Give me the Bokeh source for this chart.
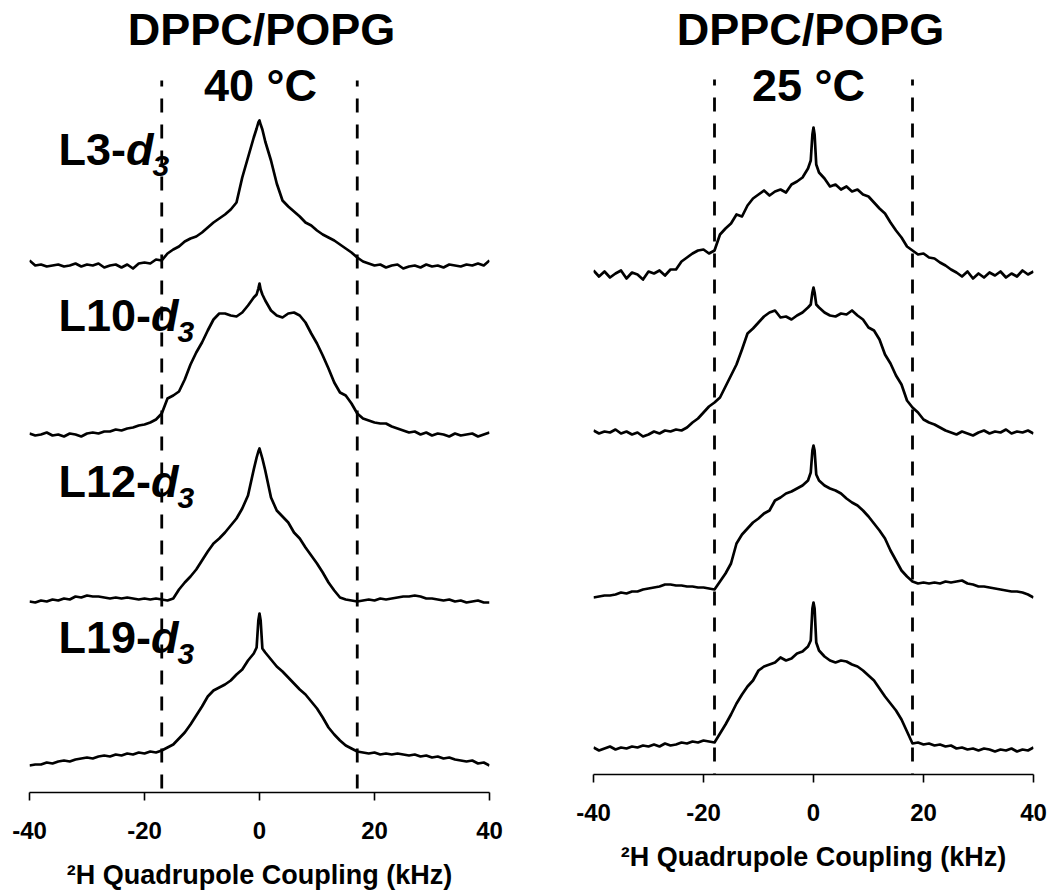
from bokeh.plotting import figure
from bokeh.layouts import row
from bokeh.models import Range1d, FixedTicker
from bokeh.core.properties import value
from bokeh.embed import file_html
from bokeh.resources import INLINE

FONT = "Liberation Sans"

# ---------------- data ----------------
# 2H quadrupole coupling grid (kHz)
coupling_khz = [float(k) for k in range(-40, 0)] + [-0.5, -0.2, 0.0, 0.2, 0.5] + [float(k) for k in range(1, 41)]

tick_values = [-40, -20, 0, 20, 40]
tick_labels = ["-40", "-20", "0", "20", "40"]

panel_titles = ["DPPC/POPG", "DPPC/POPG"]
temperatures = ["40 \u00b0C", "25 \u00b0C"]
sample_names = ["L3-", "L10-", "L12-", "L19-"]
label_italic = "d"
label_sub = "3"
axis_title = "\u00b2H Quadrupole Coupling (kHz)"

# quadrupole splitting markers (kHz)
splitting_40C = [-17.0, 17.0]
splitting_25C = [-18.0, 18.0]

# intensities (a.u.), 40 C
L3_40C = [5, 0, 1, -1, 0, 1, -1, 0, 2, -1, 1, 0, 2, -2, 0, 1, -2, 1, -3, 2,
          3, 2, 6, 5, 12, 16, 19, 24, 27, 29, 33, 38, 43, 47, 51, 56, 63, 88, 108, 128,
          137, 143, 145, 141, 136,
          124, 105, 82, 65, 59, 54, 49, 43, 40, 35, 31, 28, 25, 21, 17, 13, 8, 4, 2, 0,
          1, -2, 0, 1, -3, -1, 0, -2, 1, -1, 0, -2, 1, 0, -1, 1, 0, 2, 0, 5]
L10_40C = [1, -1, 0, 2, -1, 0, -2, 1, 0, -2, 1, 2, 1, 3, 3, 5, 4, 6, 7, 9,
           10, 12, 15, 21, 36, 39, 43, 55, 70, 82, 92, 104, 115, 121, 121, 119, 118, 122, 129, 137,
           140, 146, 151, 145, 140,
           134, 124, 119, 117, 121, 122, 119, 112, 101, 91, 79, 66, 52, 42, 39, 31, 21, 16, 14, 12,
           11, 11, 8, 6, 4, 2, 3, 0, 2, -1, 1, 0, -2, 1, -1, 0, 1, -2, 0, 2]
L12_40C = [0, -1, 1, 0, 2, 1, 3, 2, 5, 4, 6, 5, 5, 4, 3, 4, 3, 4, 3, 2,
           3, 2, 3, 2, 1, 3, 12, 19, 25, 32, 41, 50, 58, 63, 69, 76, 83, 93, 106, 132,
           144, 150, 153, 149, 143,
           131, 104, 91, 85, 79, 69, 63, 54, 46, 38, 29, 19, 11, 4, 2, 1, 0, 1, 2, 1,
           3, 2, 3, 4, 5, 5, 6, 5, 3, 3, 2, 1, 2, 0, 1, -1, 0, 1, -1, -1]
L19_40C = [0, 1, 1, 3, 2, 4, 5, 4, 6, 7, 8, 7, 9, 10, 9, 11, 10, 12, 11, 13,
           12, 14, 13, 15, 18, 21, 27, 33, 41, 50, 59, 69, 75, 78, 81, 85, 91, 96, 105, 112,
           118, 145, 152, 145, 117,
           113, 106, 99, 94, 88, 82, 76, 71, 64, 57, 48, 38, 31, 25, 20, 17, 14, 13, 12, 13,
           11, 12, 11, 12, 11, 10, 11, 9, 10, 8, 9, 7, 8, 6, 5, 4, 5, 2, 3, 0]

# intensities (a.u.), 25 C
L3_25C = [4, -2, 3, -3, 1, 4, -4, 2, 0, -5, 3, 1, 4, -1, 5, 5, 13, 17, 21, 24,
          25, 21, 24, 40, 46, 51, 60, 58, 69, 76, 80, 84, 79, 83, 85, 82, 90, 93, 97, 106,
          114, 140, 147, 140, 110,
          102, 96, 88, 90, 85, 88, 83, 85, 80, 78, 72, 66, 61, 52, 44, 37, 28, 24, 20, 21,
          17, 16, 12, 9, 5, 2, -2, 3, -4, 1, -3, 2, -1, 3, -3, 1, -2, 4, 0, 3]
L10_25C = [2, -1, 1, 0, 3, -1, 1, -2, 0, -4, -2, 1, -1, 2, 1, 3, 2, 5, 10, 14,
           20, 26, 30, 35, 46, 57, 68, 83, 99, 104, 110, 116, 120, 122, 115, 116, 113, 117, 120, 125,
           128, 140, 145, 140, 128,
           125, 120, 117, 116, 119, 118, 122, 117, 113, 105, 102, 93, 78, 69, 57, 48, 32, 25, 20, 13,
           10, 8, 5, 2, 0, -2, 1, -1, -3, 0, 2, -1, 1, 0, 3, -1, 1, 0, 2, -1]
L12_25C = [1, 2, 3, 3, 4, 6, 5, 7, 7, 9, 10, 11, 12, 14, 14, 13, 13, 12, 12, 11,
           11, 10, 9, 17, 25, 35, 55, 64, 70, 76, 80, 85, 88, 98, 101, 105, 107, 110, 113, 118,
           126, 148, 153, 148, 124,
           118, 113, 110, 108, 105, 100, 96, 93, 88, 82, 75, 68, 60, 48, 38, 28, 22, 17, 15, 16,
           15, 16, 15, 17, 16, 17, 18, 15, 14, 12, 12, 11, 10, 9, 8, 7, 7, 6, 4, 1]
L19_25C = [1, -2, 0, 2, -1, 1, 0, 2, 1, 3, 2, 4, 2, 5, 3, 4, 6, 5, 7, 6,
           8, 7, 6, 15, 24, 34, 45, 54, 62, 68, 78, 82, 84, 86, 91, 88, 90, 95, 97, 102,
           108, 140, 146, 140, 106,
           98, 92, 88, 86, 88, 87, 84, 82, 78, 73, 68, 60, 52, 45, 38, 29, 17, 5, 6, 4,
           5, 3, 4, 2, 3, 0, 1, -1, 0, -2, 0, -1, -3, -1, -2, 0, -3, -1, -2, 1]

spectra_40C = [L3_40C, L10_40C, L12_40C, L19_40C]
spectra_25C = [L3_25C, L10_25C, L12_25C, L19_25C]

# vertical stacking offsets (a.u.), top to bottom
offsets_40C = [527, 358, 191, 27]
offsets_25C = [500, 342, 176, 26]

# ---------------- layout helpers ----------------
AW = {"L": 0.611, "1": 0.556, "0": 0.556, "2": 0.556, "3": 0.556, "9": 0.556, "-": 0.333}
BASE_SHIFT = 0.4  # empirical: alphabetic baseline renders ~0.4em low


def text_w(s, size):
    return sum(AW.get(c, 0.556) for c in s) * size


def style_axis(p):
    ax = p.xaxis[0]
    ax.ticker = FixedTicker(ticks=tick_values)
    ax.major_label_overrides = {v: l for v, l in zip(tick_values, tick_labels)}
    ax.axis_line_color = "black"
    ax.axis_line_width = 1.6
    ax.major_tick_line_color = "black"
    ax.major_tick_line_width = 1.6
    ax.major_tick_out = 8
    ax.major_tick_in = 0
    ax.minor_tick_out = 0
    ax.minor_tick_in = 0
    ax.major_label_text_font = FONT
    ax.major_label_text_font_size = "24px"
    ax.major_label_text_font_style = "bold"
    ax.major_label_text_color = "black"
    ax.major_label_standoff = 21
    ax.axis_label = axis_title
    ax.axis_label_text_font = FONT
    ax.axis_label_text_font_size = "27px"
    ax.axis_label_text_font_style = "bold"
    ax.axis_label_text_color = "black"
    ax.axis_label_standoff = 18


def add_text(p, px2x, fh, x_px, base_px, txt, size, style, align):
    # x_px: image x relative to frame left; base_px: image y of baseline
    y = fh - base_px + BASE_SHIFT * size
    p.text(x=[px2x(x_px)], y=[y], text=[txt], text_font=value(FONT),
           text_font_size=f"{size}px", text_font_style=style, text_align=align,
           text_baseline="alphabetic", text_color="black")


def make_panel(frame_left, frame_w, frame_h, br, spectra, offsets, splits, dash_y,
               title, temp, title_pos, temp_pos):
    p = figure(frame_width=frame_w, frame_height=frame_h,
               min_border_left=frame_left, min_border_right=br, min_border_top=0,
               min_border_bottom=0,
               x_range=Range1d(-40, 40), y_range=Range1d(0, frame_h),
               y_axis_location=None, toolbar_location=None, output_backend="svg")
    p.xgrid.visible = False
    p.ygrid.visible = False
    p.outline_line_color = None
    p.background_fill_color = "white"
    p.border_fill_color = "white"
    style_axis(p)

    def px2x(px):
        return -40 + 80.0 * px / frame_w

    for s in splits:
        p.line([s, s], dash_y, line_color="black", line_width=2.8, line_dash="14 12")

    for spec, off in zip(spectra, offsets):
        p.line(coupling_khz, [off + v for v in spec], line_color="black", line_width=2.7,
               line_join="round")

    add_text(p, px2x, frame_h, title_pos[0] - frame_left, title_pos[1], title, 45, "bold", "center")
    add_text(p, px2x, frame_h, temp_pos[0] - frame_left, temp_pos[1], temp, 45, "bold", "center")
    return p, px2x


# ---------- left panel (40 C) ----------
# frame: image x 29..489, image y 0..792 ; data y = 792 - image y
LF = 29
left, lpx = make_panel(LF, 460, 792, 52, spectra_40C, offsets_40C, splitting_40C,
                       [4, 712], panel_titles[0], temperatures[0], (261, 47), (260, 103))

label_base = [167, 333, 499, 655]
for name, b in zip(sample_names, label_base):
    x0 = 58 - LF
    add_text(left, lpx, 792, x0, b, name, 45, "bold", "left")
    xd = x0 + text_w(name, 45)
    add_text(left, lpx, 792, xd, b, label_italic, 45, "bold italic", "left")
    xs = xd + 0.611 * 45 - 1
    add_text(left, lpx, 792, xs, b + 10, label_sub, 30, "bold italic", "left")

# ---------- right panel (25 C) ----------
# frame: image x 593..1033, image y 0..774 ; data y = 774 - image y
RF = 593
right, rpx = make_panel(52, 440, 774, 14, spectra_25C, offsets_25C, splitting_25C,
                        [-13, 695], panel_titles[1], temperatures[1],
                        (810 - RF + 52, 47), (808 - RF + 52, 103))

layout = row(left, right)

open("out.html", "w").write(file_html(layout, INLINE))
